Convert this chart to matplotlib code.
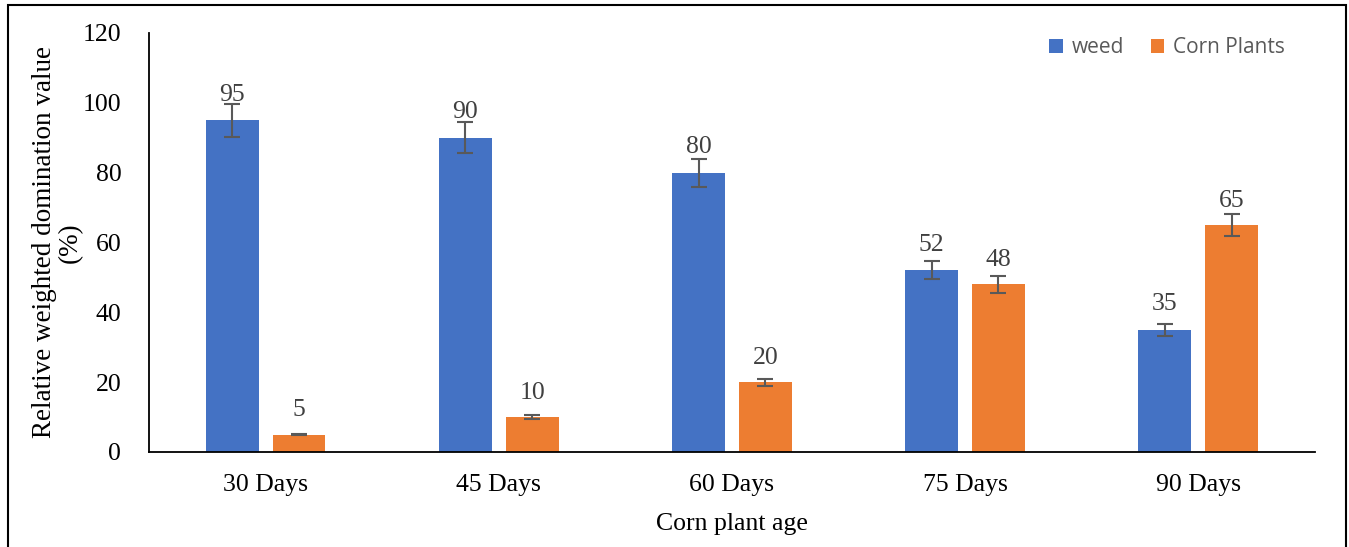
import matplotlib
matplotlib.use("Agg")
import matplotlib.pyplot as plt
import numpy as np
from matplotlib.patches import Rectangle

# Data
categories = ["30 Days", "45 Days", "60 Days", "75 Days", "90 Days"]
weed = [95, 90, 80, 52, 35]
corn = [5, 10, 20, 48, 65]
weed_err = [4.75, 4.5, 4.0, 2.6, 1.75]
corn_err = [0.25, 0.5, 1.0, 2.4, 3.25]

BLUE = "#4472C4"
ORANGE = "#ED7D31"
SERIF = ["Liberation Serif", "DejaVu Serif"]
FS = 18.5

fig = plt.figure(figsize=(13.49, 5.47), dpi=100)
ax = fig.add_axes([0.1105, 0.1737, 0.8642, 0.766])

x = np.arange(len(categories))
w = 0.227
off = 0.143
ekw = dict(ecolor="#595959", elinewidth=1.5, capsize=6, capthick=1.5)

ax.bar(x - off, weed, w, color=BLUE, label="weed", yerr=weed_err, error_kw=ekw, zorder=2)
ax.bar(x + off, corn, w, color=ORANGE, label="Corn Plants", yerr=corn_err, error_kw=ekw, zorder=2)

# value labels sit a little above each bar
for xi, v in zip(x - off, weed):
    ax.text(xi, v + 7.3, str(v), ha="center", va="center", fontsize=FS,
            color="#404040", family=SERIF, zorder=1)
for xi, v in zip(x + off, corn):
    ax.text(xi, v + 7.0, str(v), ha="center", va="center", fontsize=FS,
            color="#404040", family=SERIF, zorder=1)

ax.set_xlim(-0.5, 4.5)
ax.set_ylim(0, 120)
ax.set_yticks(range(0, 121, 20))
ax.set_xticks(x)
ax.set_xticklabels(categories)
for lab in ax.get_xticklabels() + ax.get_yticklabels():
    lab.set_family(SERIF)
    lab.set_fontsize(FS)
ax.tick_params(axis="y", length=0, pad=20)
ax.tick_params(axis="x", length=0, pad=16)

for s in ["top", "right"]:
    ax.spines[s].set_visible(False)
ax.spines["left"].set_linewidth(1.3)
ax.spines["bottom"].set_linewidth(1.3)

ax.set_xlabel("Corn plant age", family=SERIF, fontsize=FS, labelpad=12)
ax.set_ylabel("Relative weighted domination value\n(%)", family=SERIF, fontsize=19.5,
              labelpad=0, linespacing=1.05)

leg = ax.legend(loc="upper right", bbox_to_anchor=(0.99, 1.035), ncol=2, frameon=False,
                prop={"family": "Open Sans", "size": 15}, handlelength=0.65,
                handleheight=0.65, columnspacing=1.3, handletextpad=0.4)
for t in leg.get_texts():
    t.set_color("#595959")

# frame round the whole figure
fig.patches.append(Rectangle((0.006, -0.01), 0.992, 1.0, transform=fig.transFigure,
                             fill=False, edgecolor="black", linewidth=1.5))

fig.savefig("out.png", dpi=100)
